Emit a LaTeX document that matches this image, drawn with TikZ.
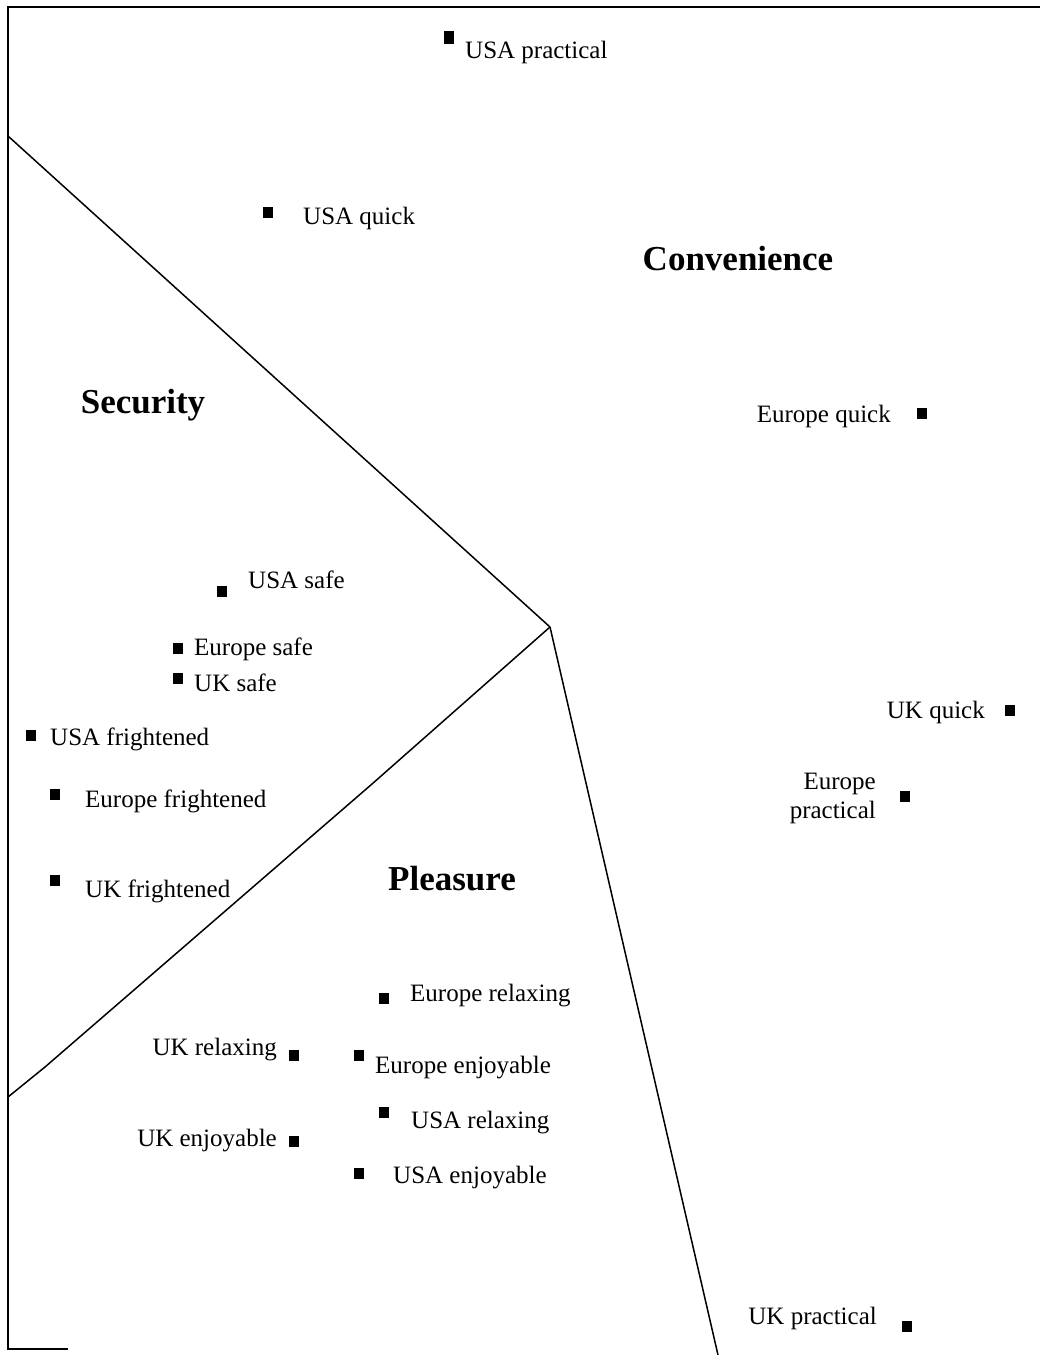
\documentclass[tikz,border=0pt]{standalone}
\usepackage{fontspec}
\setmainfont{Liberation Serif}
\begin{document}
\begin{tikzpicture}[x=1pt,y=-1pt,
  mk/.style={fill=black,draw=none,inner sep=0pt,minimum width=10pt,minimum height=11pt},
  lbl/.style={font=\fontsize{25}{29}\selectfont,inner sep=0pt,text height=0.68em,text depth=0.2em,yshift=-6pt},
  cat/.style={font=\bfseries\fontsize{35}{40}\selectfont,inner sep=0pt},
  border/.style={line width=1.6pt,black},
  divider/.style={line width=1.5pt,black}]
\useasboundingbox (0,0) rectangle (1040,1355);

% frame
\coordinate (tl) at (8,7);
\coordinate (tr) at (1040,7);
\coordinate (bl) at (8,1349);
\coordinate (br) at (68,1349);
\draw[border] (tr) -- (tl) -- (bl) -- (br);

% region dividers
\coordinate (hub) at (550,627);
\coordinate (a1) at (8,136);
\coordinate (b1) at (372,784);
\coordinate (b2) at (45,1067);
\coordinate (b3) at (8,1097);
\coordinate (c1) at (718,1355);
\draw[divider] (a1) -- (hub);
\draw[divider] (hub) -- (b1) -- (b2) -- (b3);
\draw[divider] (hub) -- (c1);

% region names
\node[cat] (conv) at (738,259) {Convenience};
\node[cat] (secu) at (143,405) {Security};
\node[cat] (plea) at (452,879) {Pleasure};

% points
\node[mk,minimum height=13pt] (m1) at (449,37) {};
\node[lbl,anchor=west] (t1) at (465,50) {USA practical};

\node[mk] (m2) at (268,212) {};
\node[lbl,anchor=west] (t2) at (303,216) {USA quick};

\node[mk] (m3) at (922,413) {};
\node[lbl,anchor=east] (t3) at (891,414) {Europe quick};

\node[mk] (m4) at (222,591) {};
\node[lbl,anchor=west] (t4) at (248,580) {USA safe};

\node[mk] (m5) at (178,648) {};
\node[lbl,anchor=west] (t5) at (194,647) {Europe safe};

\node[mk] (m6) at (178,678) {};
\node[lbl,anchor=west] (t6) at (194,683) {UK safe};

\node[mk] (m7) at (31,735) {};
\node[lbl,anchor=west] (t7) at (50,737) {USA frightened};

\node[mk] (m8) at (55,794) {};
\node[lbl,anchor=west] (t8) at (85,799) {Europe frightened};

\node[mk] (m9) at (55,880) {};
\node[lbl,anchor=west] (t9) at (85,889) {UK frightened};

\node[mk] (m10) at (1010,710) {};
\node[lbl,anchor=east] (t10) at (985,710) {UK quick};

\node[mk] (m11) at (905,796) {};
\node[lbl,anchor=east,align=right,text height=,text depth=,yshift=4pt] (t11) at (876,796) {Europe\\practical};

\node[mk] (m12) at (384,998) {};
\node[lbl,anchor=west] (t12) at (410,993) {Europe relaxing};

\node[mk] (m13) at (294,1055) {};
\node[lbl,anchor=east] (t13) at (277,1047) {UK relaxing};

\node[mk] (m14) at (359,1055) {};
\node[lbl,anchor=west] (t14) at (375,1065) {Europe enjoyable};

\node[mk] (m15) at (384,1112) {};
\node[lbl,anchor=west] (t15) at (411,1120) {USA relaxing};

\node[mk] (m16) at (294,1141) {};
\node[lbl,anchor=east] (t16) at (277,1138) {UK enjoyable};

\node[mk] (m17) at (359,1173) {};
\node[lbl,anchor=west] (t17) at (393,1175) {USA enjoyable};

\node[mk] (m18) at (907,1326) {};
\node[lbl,anchor=east] (t18) at (877,1316) {UK practical};
\end{tikzpicture}
\end{document}
